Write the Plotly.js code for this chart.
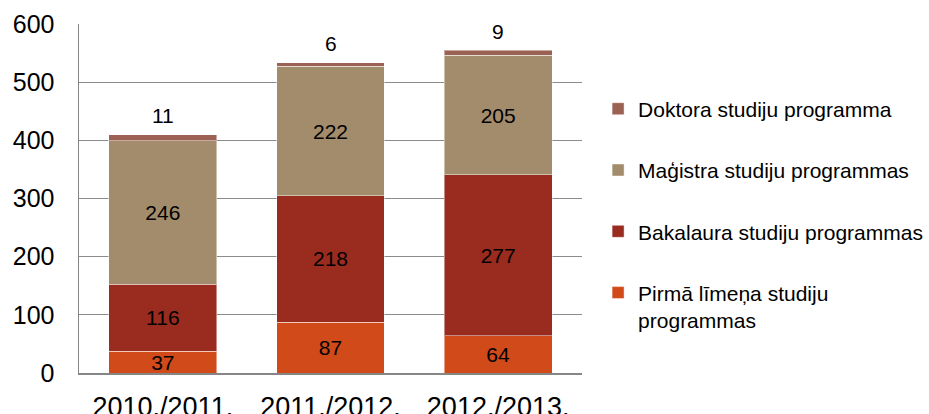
<!DOCTYPE html>
<html>
<head>
<meta charset="utf-8">
<script src="https://cdn.plot.ly/plotly-3.0.1.min.js"></script>
<style>
html,body{margin:0;padding:0;background:#fff;}
#chart{width:929px;height:414px;}
</style>
</head>
<body>
<div id="chart"></div>
<script>
const years = ["2010./2011.", "2011./2012.", "2012./2013."];
const pirma = [37, 87, 64];
const bakalaura = [116, 218, 277];
const magistra = [246, 222, 205];
const doktora = [11, 6, 9];
const seriesNames = ["Pirmā līmeņa studiju<br>programmas", "Bakalaura studiju programmas", "Maģistra studiju programmas", "Doktora studiju programma"];
const seriesColors = ["#D14A19", "#9A2B1F", "#A38C6B", "#9B6152"];
const yTicks = [0, 100, 200, 300, 400, 500, 600];

const font = "Liberation Sans, Arial, sans-serif";
const seriesData = [pirma, bakalaura, magistra, doktora];

const traces = seriesData.map((vals, i) => ({
  type: "bar",
  x: years,
  y: vals,
  name: seriesNames[i],
  legendgroup: "g" + i,
  legendrank: 1000 - i,
  marker: {color: seriesColors[i], line: {color: "rgba(255,255,255,0.45)", width: 1}},
  text: i < 3 ? vals.map(String) : undefined,
  textposition: i < 3 ? "inside" : "none",
  insidetextanchor: "middle",
  constraintext: "none",
  textfont: {family: font, size: 21, color: "#000"},
  hoverinfo: "skip"
}));

const totals = years.map((_, j) => seriesData.reduce((s, arr) => s + arr[j], 0));
const annotations = years.map((yr, j) => ({
  x: yr, y: totals[j], xref: "x", yref: "y",
  text: String(doktora[j]), showarrow: false,
  yanchor: "middle", yshift: 19,
  font: {family: font, size: 21, color: "#000"}
}));

const layout = {
  width: 929, height: 414,
  margin: {l: 79, r: 347, t: 24, b: 41, autoexpand: false},
  paper_bgcolor: "#fff", plot_bgcolor: "#fff",
  barmode: "stack",
  bargap: 0.356,
  font: {family: font, color: "#000"},
  showlegend: true,
  legend: {
    x: 1.032, xanchor: "left", y: 0.815, yanchor: "top",
    traceorder: "grouped",
    tracegroupgap: 31,
    valign: "top",
    font: {family: font, size: 21, color: "#000"},
    bgcolor: "rgba(0,0,0,0)"
  },
  xaxis: {
    type: "category",
    showgrid: false,
    showline: true, linecolor: "#868686", linewidth: 1.5,
    ticks: "", ticklabelstandoff: 9,
    tickfont: {family: font, size: 27, color: "#000"},
    fixedrange: true
  },
  yaxis: {
    range: [0, 600],
    tickvals: yTicks,
    ticktext: yTicks.map(String),
    showgrid: true, gridcolor: "#8c8c8c", gridwidth: 1.3,
    showline: true, linecolor: "#868686", linewidth: 1.5,
    zeroline: false,
    ticks: "", ticklabelstandoff: 18,
    tickfont: {family: font, size: 25, color: "#000"},
    fixedrange: true
  },
  annotations: annotations
};

Plotly.newPlot("chart", traces, layout, {displayModeBar: false, staticPlot: true});
</script>
</body>
</html>
